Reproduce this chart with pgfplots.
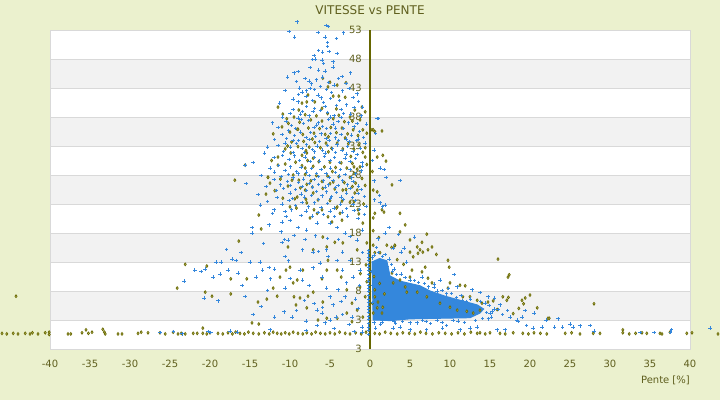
\documentclass[border=0pt]{standalone}
\usepackage{pgfplots}
\pgfplotsset{compat=1.18}
\usepackage{fontspec}
\setmainfont{DejaVu Sans}
\definecolor{bgc}{RGB}{235,241,206}
\definecolor{bandc}{RGB}{242,242,242}
\definecolor{gridc}{RGB}{217,217,217}
\definecolor{bluec}{RGB}{52,135,220}
\definecolor{olivec}{RGB}{102,102,0}
\definecolor{olivefill}{RGB}{185,185,95}
\definecolor{txtc}{RGB}{95,95,30}
\tikzset{ylabnode/.style={anchor=east, inner sep=0pt, xshift=-8pt, text=txtc, font=\fontsize{10}{12}\selectfont}}
\begin{document}
\begin{tikzpicture}
\useasboundingbox (-50pt,-51pt) rectangle (670pt,349pt);
\fill[bgc] (-50pt,-51pt) rectangle (670pt,349pt);
\begin{axis}[
  at={(0pt,0pt)}, anchor=south west,
  scale only axis, width=640pt, height=319pt,
  xmin=-40, xmax=40, ymin=-2, ymax=53,
  clip=false,
  axis line style={draw=gridc, line width=0.8pt},
  xtick={-40,-35,...,40},
  xtick style={draw=none},
  ytick=\empty,
  /pgf/number format/assume math mode=true,
  xticklabel style={font=\fontsize{10}{12}\selectfont, text=txtc, yshift=-8pt},
]
% plot area, bands and grid
\fill[white] (axis cs:-40,-2) rectangle (axis cs:40,53);
\fill[bandc] (axis cs:-40,43) rectangle (axis cs:40,48);
\fill[bandc] (axis cs:-40,33) rectangle (axis cs:40,38);
\fill[bandc] (axis cs:-40,23) rectangle (axis cs:40,28);
\fill[bandc] (axis cs:-40,13) rectangle (axis cs:40,18);
\fill[bandc] (axis cs:-40,3) rectangle (axis cs:40,8);
\draw[gridc, line width=0.8pt] (axis cs:-40,3) -- (axis cs:40,3);
\draw[gridc, line width=0.8pt] (axis cs:-40,8) -- (axis cs:40,8);
\draw[gridc, line width=0.8pt] (axis cs:-40,13) -- (axis cs:40,13);
\draw[gridc, line width=0.8pt] (axis cs:-40,18) -- (axis cs:40,18);
\draw[gridc, line width=0.8pt] (axis cs:-40,23) -- (axis cs:40,23);
\draw[gridc, line width=0.8pt] (axis cs:-40,28) -- (axis cs:40,28);
\draw[gridc, line width=0.8pt] (axis cs:-40,33) -- (axis cs:40,33);
\draw[gridc, line width=0.8pt] (axis cs:-40,38) -- (axis cs:40,38);
\draw[gridc, line width=0.8pt] (axis cs:-40,43) -- (axis cs:40,43);
\draw[gridc, line width=0.8pt] (axis cs:-40,48) -- (axis cs:40,48);
\draw[gridc, line width=0.8pt] (axis cs:-40,-2) rectangle (axis cs:40,53);
% y tick labels (under the points)
\node[ylabnode] at (axis cs:0,53) {53};
\node[ylabnode] at (axis cs:0,48) {48};
\node[ylabnode] at (axis cs:0,43) {43};
\node[ylabnode] at (axis cs:0,38) {38};
\node[ylabnode] at (axis cs:0,33) {33};
\node[ylabnode] at (axis cs:0,28) {28};
\node[ylabnode] at (axis cs:0,23) {23};
\node[ylabnode] at (axis cs:0,18) {18};
\node[ylabnode] at (axis cs:0,13) {13};
\node[ylabnode] at (axis cs:0,8) {8};
\node[ylabnode] at (axis cs:0,3) {3};
\node[ylabnode] at (axis cs:0,-2) {3};
% dense core of the blue cloud
\addplot[fill=bluec, draw=bluec, line width=1pt] coordinates {
(0.25,13.0) (1.2,13.6) (2.1,13.2) (2.5,10.6) (3.75,9.7) (6.25,8.9) (7.5,8.0) (9.4,7.1) (11.25,6.4) (13.4,5.6) (14.2,4.9) (13.75,4.2) (12.5,3.4) (8.75,3.3) (5,3.2) (2.5,2.9) (0.4,3.0)
} -- cycle;
% olive series
\addplot[only marks, mark=diamond*, mark size=1.5pt, draw=olivec, fill=olivefill, line width=0.6pt] coordinates {
(-44.25,7.1)
(-46,0.7) (-45.4,0.6) (-44.6,0.7) (-44,0.6) (-43.1,0.7) (-42.5,0.6) (-42.2,0.8) (-41.5,0.6) (-40.6,0.8) (-40.1,0.9) (-40.1,0.5)
(-37.75,0.6) (-37.4,0.6) (-36,0.8) (-35.5,1.3) (-35.2,0.7) (-34.75,0.9) (-33.4,1.4) (-33.2,0.9) (-33.1,0.6) (-31.5,0.6) (-31,0.6)
(-29,0.7) (-28.6,0.9) (-27.75,0.8) (-26.25,0.8) (-25.6,0.6) (-24.6,0.9) (-24,0.6) (-23.6,0.7) (-23.1,0.6) (-22.1,0.7) (-21.6,0.7)
(-20.9,1.6) (-20.9,0.7) (-20.4,0.6) (-20,0.8) (-19,0.7) (-18.4,0.6) (-17.75,0.8) (-17.2,0.6) (-16.8,0.9) (-16.25,0.7)
(-15.7,0.6) (-15.2,0.9) (-14.75,2.5) (-14.6,0.7) (-13.9,2.3) (-13.9,0.6) (-13.2,0.8) (-12.6,0.6) (-12.1,0.9) (-11.6,0.7) (-11.1,0.6)
(-10.6,0.8) (-10.1,0.6) (-9.6,0.9) (-9.0,0.7) (-8.4,0.6) (-7.9,0.8) (-7.3,0.6) (-6.8,0.9) (-6.2,0.7) (-5.6,0.6) (-5.0,0.8) (-4.4,0.6) (-3.8,0.9) (-3.1,0.7) (-2.5,0.6) (-1.8,0.8) (-1.1,0.6) (-0.5,0.9)
(0.6,0.7) (1.2,0.6) (1.9,0.9) (2.6,0.7) (3.4,0.6) (4.1,0.8) (4.9,0.7) (5.6,0.6) (6.3,0.9) (7.0,0.7) (7.8,0.6) (8.6,0.8) (9.4,0.7) (10.2,0.6) (11.0,0.8) (11.8,0.6) (12.6,0.9) (13.4,0.7)
(13.75,0.8) (14.4,0.6) (15,0.8) (16.25,0.7) (16.9,0.6) (17.9,0.8) (19.1,0.7) (19.8,0.6) (20.5,0.8) (21.3,0.7) (22.1,0.6) (24.4,0.7) (25.2,0.8) (26.25,0.6) (27.9,0.7) (28.75,0.7)
(31.6,1.3) (31.6,0.8) (32.4,0.6) (33.2,0.7) (34.0,0.8) (34.6,0.7) (36.25,0.7) (36.5,0.6) (37.5,0.9) (39.6,0.7) (40.25,0.8) (43.5,0.6)
(28,5.8) (22.4,3.3) (22.25,3.3) (20.9,5.1) (20,7.3) (19.4,6.8) (19,6.4) (19.2,5.8) (17.1,6.4) (17.3,6.9) (16.6,7.0) (15.4,6.3) (14.75,6.1) (14,5.9) (13.4,6.4) (12.5,7.0) (11.6,7.0) (11.9,8.9) (11.25,9.0)
(10,9.4) (9.75,8.5) (7.75,9.4) (7.25,10.2) (5,10.4) (5.25,11.6) (6.5,11.3) (6.9,12.1) (9.9,12.1) (9.75,13.3) (16,13.5) (17.4,10.8) (17.25,10.4)
(13.75,4.7) (12.9,4.2) (12.1,4.5) (10.9,4.7) (10,5.2) (8.75,5.9) (7.1,7.0) (5.9,7.8) (4.4,8.7) (3.75,9.9) (2.75,11.1) (4.6,7.8) (2.9,9.4) (15.9,4.8) (17.9,4.1) (18.6,5.0)
(0.6,7.0) (1.0,6.1) (0.9,5.1) (1.5,4.2) (0.4,4.2) (1.6,5.2) (0.6,8.2) (1.2,9.3) (0.5,10.5) (1.8,7.5) (0.3,5.9)
(7.1,17.8) (6.5,16.4) (7.75,15.6) (7.25,15.1) (6.6,14.7) (5.9,15.6) (6.0,14.5) (5.0,14.7) (5.4,13.9) (3.1,15.8) (2.7,15.5) (2.1,15.9) (1.25,14.6) (0.4,15.9) (0.6,14.6) (8.3,14.3) (4.2,12.6) (3.4,13.4)
(0.25,35.8) (0.6,35.5) (1.5,35.6) (0.4,25.4) (0.9,25.1) (1.5,22.0) (1.75,21.6) (0.6,21.4) (0.4,20.6) (0.9,31.1) (1.6,31.4) (2,30.4) (2.75,26.3) (3.75,21.4) (4.4,19.4) (5,16.8) (3.75,18.2) (3.1,15.9) (6.25,15.1) (0.4,18.4) (1.1,17.2) (0.3,28.6)
(-16.9,27.1) (-12.5,26.6) (-12.75,27.6) (-13,24.7) (-13.9,21.1) (-13.6,18.7) (-16.4,16.6) (-23.1,12.6) (-24.1,8.5) (-20.4,12.3) (-17.4,10.1) (-15.4,10.1) (-20.6,7.8) (-19.75,7.1) (-17.4,7.5)
(-14,6.1) (-12.9,6.6) (-12.1,8.5) (-11.6,7.1) (-11.25,10.4) (-10.25,15.6) (-10,12.1) (-9.6,9.4) (-9.5,7.0) (-9.25,5.6) (-8.75,6.8) (-7.75,7.1) (-7.1,7.8) (-5.9,6.1) (-6.5,3.0) (-5.4,3.3) (-7.9,5.1)
(-10.5,11.6) (-9.1,9.9) (-8.4,11.6) (-6,10.1) (-5.4,11.6) (-5.25,13.3) (-4.1,11.6) (-3.6,10.4) (-2.9,8.2) (-2.25,5.9) (-1.6,4.7) (-2.25,2.7) (-2.9,4.2) (-4.1,3.3) (-0.9,3.5) (-0.6,7.0) (-1.25,8.7)
(-3.75,21.4) (-4.1,22.5) (-3.5,20.2) (-4.75,19.9) (-5.25,20.8) (-6,22.0) (-6.6,21.4) (-7.5,20.6) (-7.9,23.2) (-7.1,24.9) (-8.1,25.4) (-10,22.5) (-9.1,24.2) (-10.25,26.1) (-9.75,27.1)
(-2.5,23.3) (-1.9,24.9) (-3.4,25.4) (-1.5,22.0) (-0.9,19.7) (-0.4,16.3) (-1.6,15.1) (-3.4,16.3) (-4.4,16.4) (-5.4,15.6) (-5.9,17.3) (-7.1,15.1) (-0.5,12.5) (-1.2,11.0) (-0.4,9.6)
(-11.5,39.7) (-10.9,38.5) (-10.4,37.7) (-12.1,35.1) (-10,35.4) (-9,35.9) (-8.5,40.4) (-7.9,40.6) (-6.9,40.6) (-7.75,41.8) (-5.25,43.2) (-5,44.0) (-4.6,41.6) (-3.9,41.6) (-3.1,41.4) (-4.1,43.5) (-5.9,44.7) (-3,43.9)
(-1.9,39.2) (-1,39.7) (-0.6,38.9) (-1.25,37.5) (-0.9,35.8) (-0.4,35.2) (0.4,35.8) (-0.6,32.7) (-0.6,31.1) (-1.25,29.4) (-2,29.4) (-7.1,30.9) (-7.9,31.8) (-8.5,31.4) (-9.9,31.8) (-10.6,32.5) (-11.5,31.1) (-11.5,29.7) (-12.75,27.6) (-15.6,29.7)
(-9.5,38.0) (-8.8,37.1) (-8.1,38.4) (-7.4,37.5) (-6.7,38.2) (-6.0,37.3) (-5.3,38.6) (-4.6,37.7) (-3.9,38.3) (-3.2,37.2) (-2.5,38.0)
(-9.1,35.9) (-8.4,35.0) (-7.7,36.1) (-7.0,35.2) (-6.3,36.0) (-5.6,35.0) (-4.9,36.2) (-4.2,35.3) (-3.5,36.1) (-2.8,35.1) (-2.1,35.8) (-1.5,34.8)
(-9.8,33.7) (-9.0,32.9) (-8.3,33.8) (-7.6,32.8) (-6.9,33.6) (-6.2,32.7) (-5.5,33.5) (-4.8,32.6) (-4.1,33.5) (-3.4,32.5) (-2.7,33.4) (-2.0,32.4) (-1.4,33.2)
(-9.3,30.2) (-8.5,29.6) (-7.8,30.5) (-7.1,29.5) (-6.4,30.3) (-5.7,29.4) (-5.0,30.2) (-4.3,29.3) (-3.6,30.1) (-2.9,29.2) (-2.2,30.0) (-1.6,29.0)
(-9.6,28.0) (-8.9,27.1) (-8.1,28.1) (-7.4,27.0) (-6.7,27.9) (-6.0,26.9) (-5.3,27.8) (-4.6,26.8) (-3.9,27.7) (-3.2,26.7) (-2.5,27.6) (-1.8,26.6) (-1.0,27.4)
(-8.7,25.8) (-7.2,25.9) (-5.9,25.7) (-4.4,25.6) (-3.0,25.5) (-1.6,25.4) (-0.6,26.2)
(-10.9,24.0) (-9.4,23.9) (-8.0,23.8) (-6.5,23.7) (-5.0,23.6) (-3.5,23.5) (-2.0,23.4) (-0.8,23.0)
(-10.2,36.9) (-8.9,39.2) (-6.0,39.5) (-4.2,39.4) (-2.2,37.3) (-7.2,34.2) (-5.2,34.6) (-3.1,34.4) (-10.3,33.0) (-8.0,32.2) (-5.2,32.0) (-2.4,31.2) (-10.6,29.9) (-8.1,29.2) (-4.7,28.6) (-2.0,28.3) (-11.2,27.3) (-7.9,26.4) (-5.0,26.5) (-2.2,26.0) (-9.2,22.3) (-7.0,22.0) (-4.2,22.3) (-1.4,21.3) (-11.9,25.3) (-12.3,30.5) (-11.0,36.3) (-0.9,31.9) (-0.4,29.8)
};
% blue series
\addplot[only marks, mark=+, mark size=1.7pt, draw=bluec, line width=0.9pt] coordinates {
(-9.1,54.4) (-5.5,53.8) (-5.2,53.6) (-10.1,52.7) (-6.5,52.6) (-3.3,52.5) (-9.4,51.8) (-5.6,51.8) (-4.2,51.5) (-5.3,50.8) (-5.3,50.2) (-6.4,49.5) (-5.9,49.2) (-4.1,49.0) (-5.1,49.3) (-7.0,48.6) (-6.8,48.0) (-7.2,47.9) (-6.0,47.8) (-4.6,47.5) (-5.8,47.2) (-7.5,46.5) (-6.4,46.1) (-5.6,45.9) (-4.6,46.6) (-9.0,45.8) (-9.5,45.6) (-10.3,44.9) (-2.4,45.6) (-3.5,45.0) (-5.9,44.9) (-7.3,43.7) (-7.6,44.2) (-6.9,42.7) (-7.9,42.5) (-8.5,42.3) (-5.4,42.7) (-3.4,42.5) (-4.5,43.5) (-6.2,43.3) (-11.3,40.4) (-9.6,41.1) (-9.0,40.6) (-2.1,41.4) (-2.9,40.1) (-0.9,39.7) (1.0,37.7)
(-8.0,41.5) (-7.2,40.8) (-6.5,41.8) (-5.8,40.5) (-4.9,41.2) (-4.2,40.0) (-3.6,39.3) (-6.9,39.5) (-8.4,39.0) (-10.0,38.6) (-5.3,38.8) (-2.4,38.5) (-1.6,42.0) (-7.6,38.2) (-4.5,38.2) (-12.2,37.0) (-3.0,43.8) (-8.8,43.0)
(-10.5,37.2) (-9.8,36.5) (-9.0,37.8) (-8.3,36.9) (-7.7,37.4) (-7.0,36.2) (-6.4,37.0) (-5.9,36.4) (-5.2,37.6) (-4.6,36.8) (-4.0,37.2) (-3.3,36.0) (-2.7,37.0) (-2.0,36.3) (-1.3,35.5)
(-11.0,35.0) (-10.2,35.6) (-9.4,34.8) (-8.7,35.4) (-8.0,34.5) (-7.4,35.3) (-6.8,34.6) (-6.1,35.1) (-5.5,34.3) (-4.9,35.2) (-4.3,34.4) (-3.6,35.0) (-3.0,34.2) (-2.3,34.9) (-1.7,33.9) (-0.8,34.5)
(-11.5,33.1) (-10.6,33.5) (-9.9,32.8) (-9.2,33.4) (-8.5,32.6) (-7.9,33.2) (-7.2,32.4) (-6.6,33.0) (-5.9,32.3) (-5.3,33.1) (-4.7,32.5) (-4.1,33.2) (-3.5,32.2) (-2.8,32.9) (-2.1,32.1) (-1.2,32.6)
(-12.0,31.0) (-10.9,31.4) (-10.1,30.7) (-9.4,31.3) (-8.8,30.5) (-8.1,31.1) (-7.5,30.3) (-6.9,31.0) (-6.3,30.4) (-5.7,31.2) (-5.0,30.5) (-4.4,31.0) (-3.8,30.2) (-3.1,30.9) (-2.5,30.3) (-1.8,30.8) (-1.0,30.1)
(-13.2,31.8) (-14.6,30.2) (-15.6,29.7) (-0.4,36.8) (0.7,35.2)
(-12.5,29.2) (-11.4,29.6) (-10.6,28.8) (-9.9,29.4) (-9.2,28.6) (-8.6,29.3) (-7.9,28.5) (-7.3,29.1) (-6.7,28.3) (-6.1,29.0) (-5.5,28.2) (-4.9,29.2) (-4.3,28.4) (-3.7,29.0) (-3.1,28.1) (-2.5,28.9) (-1.8,28.2) (-1.1,28.7)
(-12.0,27.2) (-11.1,27.7) (-10.3,26.9) (-9.6,27.5) (-8.9,26.7) (-8.3,27.3) (-7.6,26.5) (-7.0,27.2) (-6.4,26.4) (-5.8,27.0) (-5.2,26.3) (-4.6,27.1) (-4.0,26.2) (-3.4,27.0) (-2.8,26.3) (-2.1,26.9) (-1.4,26.1)
(-11.7,25.3) (-10.8,25.7) (-10.0,24.9) (-9.3,25.5) (-8.6,24.7) (-7.9,25.3) (-7.3,24.5) (-6.7,25.2) (-6.0,24.4) (-5.4,25.1) (-4.8,24.3) (-4.2,25.0) (-3.6,24.2) (-2.9,24.9) (-2.2,24.1) (-1.5,24.8) (-0.7,24.3)
(-12.8,23.4) (-11.0,23.0) (-10.1,23.6) (-9.3,22.7) (-8.5,23.3) (-7.7,22.5) (-6.9,23.2) (-6.1,22.4) (-5.3,23.1) (-4.5,22.3) (-3.7,23.0) (-2.9,22.2) (-2.1,22.9) (-1.3,22.1) (-0.5,22.6)
(-15.5,26.5) (-14.0,24.6) (-13.6,27.9) (0.5,27.0) (1.2,24.5) (0.3,30.5)
(-9.2,44.1) (-8.1,44.6) (-6.7,44.4) (-5.2,44.0) (-3.9,44.6) (-8.9,41.9) (-7.5,42.9) (-6.1,41.3) (-4.8,42.2) (-3.8,40.8) (-2.6,42.9) (-1.4,40.7) (-10.6,42.6)
(-10.9,38.0) (-9.6,39.3) (-8.7,38.5) (-7.9,39.8) (-7.1,38.9) (-6.2,39.1) (-5.6,39.8) (-4.9,38.0) (-3.3,38.6) (-2.0,39.6) (-1.1,38.2) (-11.5,36.2) (-9.3,36.0) (-8.6,37.6) (-6.7,36.6) (-5.4,36.0) (-4.3,36.1) (-3.6,37.9) (-1.6,36.9)
(-11.9,34.1) (-10.4,34.3) (-9.6,33.9) (-8.9,34.0) (-7.6,34.1) (-6.3,33.8) (-5.1,33.9) (-3.9,34.0) (-2.6,33.7) (-1.5,34.2) (-10.8,32.1) (-9.6,31.9) (-8.2,31.9) (-6.9,32.0) (-5.6,31.8) (-4.3,31.9) (-3.0,31.6) (-1.6,31.5) (-0.6,33.5) (-12.8,32.8)
(-11.9,28.5) (-10.2,28.1) (-9.0,28.2) (-7.6,27.9) (-6.4,27.7) (-5.1,27.6) (-3.8,27.8) (-2.3,27.5) (-0.9,29.5) (-11.2,26.3) (-9.9,26.2) (-8.5,26.0) (-7.2,25.9) (-5.6,25.9) (-4.3,25.8) (-2.5,25.7) (-1.1,25.5) (-13.0,26.0)
(-11.6,24.1) (-9.7,24.0) (-8.2,24.2) (-6.4,23.8) (-4.9,23.9) (-3.3,23.8) (-1.8,23.6) (-12.0,22.0) (-10.6,21.7) (-9.8,22.0) (-8.0,21.8) (-6.5,21.5) (-5.0,21.8) (-3.4,21.6) (-2.0,21.9) (-0.7,21.2) (-10.5,20.8) (-13.7,22.8)
(-12.6,19.4) (-14.75,18.9) (-14.75,18.0) (-11.1,18.2) (-11,16.4) (-10.7,16.9) (-10.25,16.8) (-8.4,15.1) (-7.1,14.7) (-6.4,14.8) (-5.4,15.1) (-3.4,14.7) (-1.6,16.8) (-3.1,18.0) (-4.1,18.9) (-5,19.7) (-6.6,19.7) (-7.9,18.5) (-9,19.0) (-10,20.2) (-11,19.9)
(-8.6,21.0) (-7.2,20.9) (-5.8,21.2) (-4.4,20.8) (-2.8,20.9) (-1.5,20.5) (-9.5,17.6) (-8.1,16.9) (-6.8,17.5) (-5.3,17.1) (-3.9,16.9) (-2.5,17.4) (-0.9,18.5) (-12.2,21.4) (-13.3,16.2)
(-17.9,15.2) (-17.25,13.5) (-16.1,14.6) (-16.75,13.3) (-19.25,13.0) (-18.6,13.0) (-21.9,11.6) (-21.1,11.4) (-20.6,11.8) (-23.25,9.7) (-19.6,10.4) (-18.75,10.9) (-17.75,11.6) (-16.5,11.1) (-16,9.0) (-15.6,7.1) (-20.75,6.8) (-19,6.3)
(-15,13.0) (-14.25,10.4) (-13.75,13.0) (-13.4,11.6) (-12.6,12.1) (-12.4,10.1) (-11.9,11.8) (-10.6,14.0) (-10.2,13.2) (-10.6,8.5) (-10,10.2) (-8.75,11.6) (-8.4,9.9) (-7.6,9.0) (-7.1,12.0) (-6.25,12.8) (-6,10.4) (-5.4,8.5) (-5,7.0)
(-11.9,3.5) (-10.75,4.4) (-9.75,3.5) (-6.6,4.7) (-5.9,5.2) (-6,4.2) (-5.6,2.5) (-6.6,2.1) (-5,3.0) (-4.25,3.5) (-3.4,3.9) (-2.25,3.5) (-1,1.8) (-3.1,7.0) (-4,8.2) (-2.9,9.4) (-2.1,10.4) (-3.4,11.6) (-1.25,11.6) (-2.5,13.3) (-4.1,13.3) (-5.25,13.9) (-0.9,14.6)
(-8.2,6.4) (-7.0,5.8) (-9.2,4.6) (-8.0,2.8) (-4.6,5.6) (-3.6,6.2) (-1.8,6.6) (-1.5,5.0) (-2.6,2.2) (-12.8,8.1) (-13.6,5.3) (-14.6,4.0) (-1.3,9.0)
(-26.25,0.8) (-24.6,1.0) (-23.5,0.6) (-20.25,1.0) (-19.9,0.8) (-17.5,1.1) (-16.6,0.9) (-8,1.2) (-4.5,1.5) (-2,1.0) (-1,0.9) (-12.5,1.3)
(-0.2,0.5) (-0.2,1.2) (-0.2,1.8) (-0.2,2.4) (-0.2,3.1) (-0.2,3.6) (-0.2,4.3) (-0.2,4.8) (-0.2,5.4) (-0.2,6.1) (-0.2,6.6) (-0.2,7.2) (-0.2,7.9) (-0.2,8.4) (-0.2,9.0) (-0.2,9.7) (-0.2,10.2) (-0.2,10.8) (-0.2,11.5) (-0.2,12.0) (-0.2,12.6) (-0.2,13.3) (-0.2,13.8) (-0.2,14.4) (-0.2,15.0)
(1,17.0) (5.6,17.3) (1.9,18.0) (4.6,13.0) (3.9,14.7) (2.9,15.4) (10.5,10.8) (8.1,9.2) (8.75,9.9) (6.5,10.4) (11.6,6.4) (13.1,5.4) (14.4,5.9) (15.25,4.4) (16.6,3.9) (17.5,3.5) (18.5,2.7) (19.6,2.1) (20.4,1.6) (21.5,1.8) (23.1,1.8) (24.1,1.8) (25.4,1.8)
(18.4,3.0) (16.9,1.3) (15.9,1.3) (13.4,1.8) (12.5,1.6) (11.25,1.3) (9.1,1.6) (7.1,1.3) (5,1.3) (3.75,1.8) (2.9,1.6) (9.6,2.1) (8.4,3.0) (5.9,2.5) (4.1,2.7) (2.25,3.3)
(16.25,5.6) (15.6,6.8) (14.75,7.0) (13.75,7.7) (12.75,8.2) (10.9,8.7) (9.8,8.4) (14.6,4.3) (15.2,3.5) (16.0,4.8) (17.2,4.6) (14.1,3.3) (11.8,2.6) (10.4,2.9) (7.6,2.4) (6.6,2.9) (3.2,2.4) (1.3,2.2) (0.5,2.5) (0.7,1.6)
(3.0,11.8) (3.9,10.9) (5.0,9.9) (6.1,9.5) (7.3,8.7) (8.4,8.0) (9.6,7.5) (10.8,6.9) (12.1,6.2) (2.7,12.6) (0.3,13.7) (1.6,14.0) (0.8,15.5) (1.5,12.2) (0.2,11.4)
(0.5,14.2) (1.1,14.6) (1.9,14.3) (2.4,13.5) (2.2,12.2) (2.8,11.4) (3.3,10.8) (4.4,10.3) (5.6,9.8) (6.8,9.3) (8.0,8.6) (9.0,8.1) (10.2,7.6) (11.4,7.2) (12.6,6.6) (13.8,6.2) (14.9,5.5) (15.5,4.9) (15.0,4.2) (14.8,3.2) (13.2,2.9) (11.0,2.8) (9.0,2.6) (7.0,2.7) (5.0,2.5) (3.0,2.7) (1.5,2.6) (0.6,3.4) (0.3,6.0) (0.3,9.0) (0.6,12.0)
(25,2.3) (26.25,2.0) (27.5,2.1) (28,1.1) (33.75,0.8) (35.5,0.8) (37.6,0.9) (37.7,1.3) (42.5,1.6) (20.5,4.2) (22,3.0) (23.5,3.2) (19,3.5) (19.4,4.6)
(0.9,37.7) (0.5,32.3) (1.25,29.2) (1.75,28.9) (2,27.6) (1.25,23.2) (1.6,22.5) (2.4,19.0) (3.6,17.7) (4.25,15.4) (0.6,23.7) (1.9,22.8) (3.75,27.1)
};
% vertical axis through 0
\draw[olivec, line width=1.1pt] (axis cs:0,-2) -- (axis cs:0,53);
\end{axis}
\node[text=txtc, font=\fontsize{12}{14}\selectfont] at (320pt,339pt) {VITESSE vs PENTE};
\node[anchor=east, inner sep=0pt, text=txtc, font=\fontsize{10}{12}\selectfont] at (640pt,-31pt) {Pente [\%]};
\end{tikzpicture}
\end{document}
